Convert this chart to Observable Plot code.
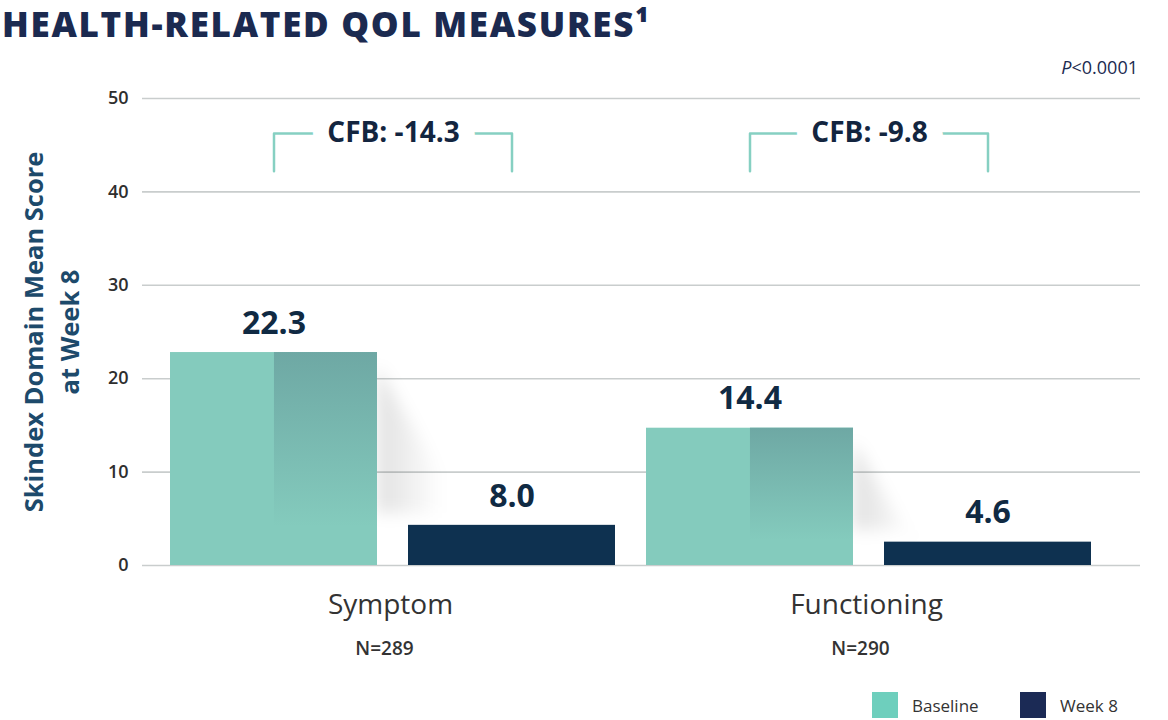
<!DOCTYPE html>
<html>
<head>
<meta charset="utf-8">
<script src="https://cdn.jsdelivr.net/npm/d3@7"></script>
<script src="https://cdn.jsdelivr.net/npm/@observablehq/plot@0.6"></script>
<style>
  body { margin: 0; background: #fff; font-family: "Open Sans", sans-serif; }
  #wrap { position: relative; width: 1168px; height: 720px; overflow: hidden; background: #fff; }
  #title { position: absolute; left: 2px; top: 0; font-size: 35px; line-height: normal; font-weight: 800; color: #1b2a50; white-space: nowrap; letter-spacing: 1.7px; }
  #pval { position: absolute; right: 30px; top: 55px; font-size: 18px; line-height: 24px; color: #1b2a50; }
  #chart { position: absolute; left: 0; top: 80px; }
  .leg { position: absolute; top: 692px; display: flex; align-items: center; font-size: 17px; color: #333; height: 26px; }
  .sw { width: 26px; height: 26px; margin-right: 14px; }
  #chart g[aria-label^="y-axis"] text { font-weight: 600; fill: #2e2e2e; }
</style>
</head>
<body>
<div id="wrap">
  <div id="title"></div>
  <div id="pval"><i>P</i>&lt;0.0001</div>
  <div id="chart"></div>
  <div id="legend"></div>
</div>
<script>
// ---- data ----
const groups = ["Symptom", "Functioning"];
const groupN = ["N=289", "N=290"];
const seriesNames = ["Baseline", "Week 8"];
const baselineBar = [22.8, 14.7];    // bar heights as drawn
const week8Bar = [4.3, 2.5];         // bar heights as drawn
const baselineLabel = ["22.3", "14.4"];
const week8Label = ["8.0", "4.6"];
const cfbLabels = ["CFB: -14.3", "CFB: -9.8"];
const yTicks = [0, 10, 20, 30, 40, 50];
const titleText = "HEALTH-RELATED QOL MEASURES\u00B9";
const yLabel = "Skindex Domain Mean Score\nat Week 8";

document.getElementById("title").textContent = titleText;

const colors = { bar: ["#84cbbd", "#0e3150"], legend: ["#6ecfbd", "#1b2a55"] };

const rows = groups.flatMap((g, i) => [
  { group: g, series: seriesNames[0], key: g + "|" + seriesNames[0], value: baselineBar[i], label: baselineLabel[i] },
  { group: g, series: seriesNames[1], key: g + "|" + seriesNames[1], value: week8Bar[i], label: week8Label[i] }
]);
const keys = rows.map(d => d.key);
const baseRows = rows.filter(d => d.series === seriesNames[0]);
const weekRows = rows.filter(d => d.series === seriesNames[1]);

const bracketLo = 42.2, bracketHi = 46.25;
const bracketPts = groups.flatMap(g => [
  { group: g, key: g + "|" + seriesNames[0], y: bracketLo },
  { group: g, key: g + "|" + seriesNames[0], y: bracketHi },
  { group: g, key: g + "|" + seriesNames[1], y: bracketHi },
  { group: g, key: g + "|" + seriesNames[1], y: bracketLo }
]);
const groupRows = groups.map((g, i) => ({ key: g + "|" + seriesNames[0], name: g, n: groupN[i], cfb: cfbLabels[i] }));

const xRange = [142, 1119], padIn = 0.13, padOut = 0.109;
const step = (xRange[1] - xRange[0]) / (keys.length - padIn + 2 * padOut);
const halfStep = step / 2;
const bw = step * (1 - padIn);

const chart = Plot.plot({
  width: 1168,
  height: 590,
  marginTop: 18,
  marginBottom: 105,
  marginLeft: 142,
  marginRight: 28,
  style: { fontFamily: "Open Sans, sans-serif", fontSize: "18px", color: "#2e2e2e", background: "#fff", overflow: "visible" },
  x: { type: "band", domain: keys, range: xRange, paddingInner: padIn, paddingOuter: padOut, axis: null },
  y: { domain: [0, 50], ticks: yTicks, tickSize: 0, tickPadding: 14, label: null },
  marks: [
    Plot.ruleY(yTicks, { stroke: "#c9cdcd", strokeWidth: 1.6 }),
    Plot.barY(baseRows, { x: "key", y: "value", fill: colors.bar[0] }),
    Plot.barY(baseRows, { x: "key", y: "value", fill: "url(#bshade)", insetLeft: bw / 2 }),
    Plot.barY(weekRows, { x: "key", y: "value", fill: colors.bar[1] }),
    Plot.text(rows, { x: "key", y: "value", text: "label", dy: -29, fontSize: 32, fontWeight: 700, fill: "#102a43" }),
    Plot.line(bracketPts, { x: "key", y: "y", z: "group", stroke: "#86d0c2", strokeWidth: 2.5, curve: "linear" }),
    Plot.text(groupRows, { x: "key", y: () => bracketHi, text: "cfb", dx: halfStep, fontSize: 28, fontWeight: 700, fill: "#13253f", stroke: "#fff", strokeWidth: 32, strokeLinejoin: "round" }),
    Plot.text(groupRows, { x: "key", y: () => 0, text: "name", dx: halfStep - 3, dy: 40, fontSize: 28, fontWeight: 500, fill: "#333" }),
    Plot.text(groupRows, { x: "key", y: () => 0, text: "n", dx: halfStep - 9, dy: 83, fontSize: 19, fontWeight: 600, fill: "#333" }),
    Plot.text([yLabel], { frameAnchor: "left", textAnchor: "middle", text: d => d, rotate: -90, dx: -93, fontSize: 25.5, fontWeight: 700, fill: "#1d4a6b", lineHeight: 1.42 })
  ]
});
document.getElementById("chart").append(chart);

// gradient for shaded right half of baseline bars + soft cast shadow
const svg = d3.select(chart);
const defs = svg.insert("defs", ":first-child");
const g1 = defs.append("linearGradient").attr("id", "bshade").attr("x1", 0).attr("y1", 0).attr("x2", 0).attr("y2", 1);
g1.append("stop").attr("offset", 0).attr("stop-color", "#6ea8a4");
g1.append("stop").attr("offset", 0.82).attr("stop-color", "#84cbbd");
const g2 = defs.append("linearGradient").attr("id", "shadowg").attr("x1", 0).attr("y1", 0).attr("x2", 1).attr("y2", 0);
g2.append("stop").attr("offset", 0).attr("stop-color", "#000").attr("stop-opacity", 0.12);
g2.append("stop").attr("offset", 1).attr("stop-color", "#000").attr("stop-opacity", 0);
defs.append("filter").attr("id", "blur").attr("x", "-50%").attr("y", "-50%").attr("width", "200%").attr("height", "200%")
  .append("feGaussianBlur").attr("stdDeviation", 8);

const xs = chart.scale("x"), ys = chart.scale("y");
const firstBar = chart.querySelector('g[aria-label="bar"]');
const sh = document.createElementNS("http://www.w3.org/2000/svg", "g");
chart.insertBefore(sh, firstBar);
groups.forEach((g, i) => {
  const xr = xs.apply(g + "|" + seriesNames[0]) + xs.bandwidth;
  const yt = ys.apply(baselineBar[i]);
  const yw = ys.apply(week8Bar[i]);
  d3.select(sh).append("path")
    .attr("d", `M${xr},${yt + 14}L${xr + 65},${yt + 125}L${xr + 65},${yw - 12}L${xr},${yw - 12}Z`)
    .attr("fill", "url(#shadowg)")
    .attr("filter", "url(#blur)");
});

// legend
const legend = document.getElementById("legend");
[872, 1020].forEach((left, i) => {
  const item = document.createElement("div");
  item.className = "leg";
  item.style.left = left + "px";
  const sw = document.createElement("div");
  sw.className = "sw";
  sw.style.background = colors.legend[i];
  const t = document.createElement("span");
  t.textContent = seriesNames[i];
  item.append(sw, t);
  legend.append(item);
});
</script>
</body>
</html>
